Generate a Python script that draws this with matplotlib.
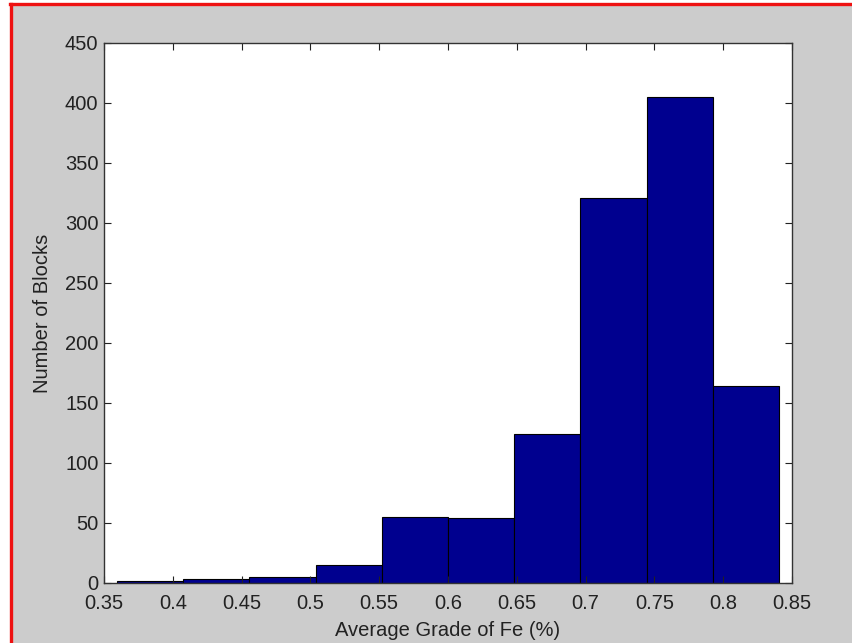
import numpy as np
import matplotlib
matplotlib.use('Agg')
import matplotlib.pyplot as plt
from matplotlib.patches import Rectangle
from matplotlib.lines import Line2D

# histogram data
bin_edges = [0.3595, 0.4076, 0.4557, 0.5038, 0.5519, 0.6000,
             0.6481, 0.6962, 0.7443, 0.7924, 0.8405]
counts = [2, 3, 5, 15, 55, 54, 124, 321, 405, 164]

x_ticks = [0.35, 0.4, 0.45, 0.5, 0.55, 0.6, 0.65, 0.7, 0.75, 0.8, 0.85]
x_labels = ['0.35', '0.4', '0.45', '0.5', '0.55', '0.6', '0.65', '0.7', '0.75', '0.8', '0.85']
y_ticks = [0, 50, 100, 150, 200, 250, 300, 350, 400, 450]

plt.rcParams['font.family'] = ['Liberation Sans', 'DejaVu Sans']

fig = plt.figure(figsize=(8.52, 6.43), dpi=100, facecolor='white')

# grey window background and the red frame on the left/top (behind the axes)
fig.patches.append(Rectangle((11 / 852, 0), 1, (643 - 5) / 643, transform=fig.transFigure,
                             facecolor='#cccccc', edgecolor='none', zorder=-10))
fig.lines.append(Line2D([10.5 / 852, 10.5 / 852], [0, (643 - 4) / 643], transform=fig.transFigure,
                        color='#ee1111', linewidth=2.4, zorder=-5))
fig.lines.append(Line2D([9.5 / 852, 1], [(643 - 4) / 643, (643 - 4) / 643], transform=fig.transFigure,
                        color='#ee1111', linewidth=2.4, zorder=-5))

ax = fig.add_axes([104 / 852, 60 / 643, 688 / 852, 540 / 643])
ax.set_facecolor('white')

edges = np.array(bin_edges)
ax.bar(edges[:-1], counts, width=np.diff(edges), align='edge',
       color='#00008f', edgecolor='black', linewidth=0.8)

ax.set_xlim(0.35, 0.85)
ax.set_ylim(0, 450)
ax.set_xticks(x_ticks)
ax.set_xticklabels(x_labels)
ax.set_yticks(y_ticks)

ax.tick_params(direction='in', length=5, width=0.8, top=True, right=True,
               labelsize=14.5, colors='#222222')
ax.tick_params(axis='x', pad=8)
ax.tick_params(axis='y', pad=4)
for s in ax.spines.values():
    s.set_color('#333333')
    s.set_linewidth(1.0)

ax.set_xlabel('Average Grade of Fe (%)', fontsize=14.5, color='#222222', labelpad=6)
ax.set_ylabel('Number of Blocks', fontsize=14.5, color='#222222', labelpad=9)

fig.savefig('out.png', dpi=100, facecolor=fig.get_facecolor())
